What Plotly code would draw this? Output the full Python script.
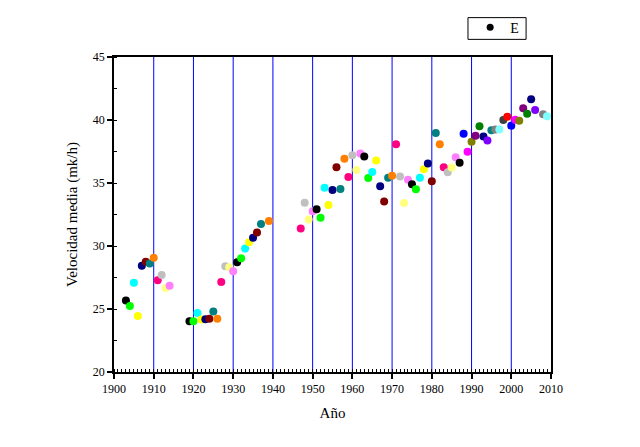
import plotly.graph_objects as go

years = [1903, 1904, 1905, 1906, 1907, 1908, 1909, 1910, 1911, 1912, 1913, 1914,
         1919, 1920, 1921, 1922, 1923, 1924, 1925, 1926, 1927, 1928, 1929, 1930,
         1931, 1932, 1933, 1934, 1935, 1936, 1937, 1939,
         1947, 1948, 1949, 1950, 1951, 1952, 1953, 1954, 1955, 1956, 1957, 1958,
         1959, 1960, 1961, 1962, 1963, 1964, 1965, 1966, 1967, 1968, 1969, 1970,
         1971, 1972, 1973, 1974, 1975, 1976, 1977, 1978, 1979, 1980, 1981, 1982,
         1983, 1984, 1985, 1986, 1987, 1988, 1989, 1990, 1991, 1992, 1993, 1994,
         1995, 1996, 1997, 1998, 1999, 2000, 2001, 2002, 2003, 2004, 2005, 2006,
         2008, 2009]
speeds = [25.68, 25.23, 27.09, 24.45, 28.44, 28.75, 28.62, 29.06, 27.29, 27.70, 26.67, 26.85,
          24.02, 24.02, 24.69, 24.17, 24.19, 24.22, 24.80, 24.22, 27.15, 28.40, 28.32, 27.99,
          28.72, 29.02, 29.80, 30.30, 30.65, 31.08, 31.75, 31.98,
          31.38, 33.44, 32.10, 32.75, 32.92, 32.24, 34.63, 33.26, 34.45, 36.25, 34.53, 36.93,
          35.47, 37.21, 36.04, 37.34, 37.10, 35.39, 35.88, 36.78, 34.74, 33.54, 35.41, 35.57,
          38.07, 35.52, 33.41, 35.26, 34.90, 34.50, 35.41, 36.09, 36.54, 35.13, 38.96, 38.07,
          36.25, 35.86, 36.23, 37.05, 36.60, 38.90, 37.48, 38.28, 38.75, 39.50, 38.70, 38.38,
          39.19, 39.24, 39.24, 40.00, 40.26, 39.55, 40.02, 39.95, 40.94, 40.50, 41.65, 40.80,
          40.45, 40.30]

cycle_a = ["#000000", "#00ff00", "#00ffff", "#ffff00", "#000080", "#800000",
           "#008080", "#ff8000", "#ff0080", "#c0c0c0", "#ffff80", "#ff80ff"]
cycle_b = ["#ff0000", "#0000ff", "#ff00ff", "#808000", "#800080", "#008000",
           "#000080", "#8000ff", "#008080", "#808080", "#80ffff", "#404040"]

colors = []
for i, yr in enumerate(years):
    if yr <= 1987:
        colors.append(cycle_a[i % 12])
    else:
        colors.append(cycle_b[(yr - 1987) % 12])

xticks = list(range(1900, 2011, 10))
yticks = list(range(20, 46, 5))
vlines = list(range(1910, 2001, 10))

fig = go.Figure()
for v in vlines:
    fig.add_vline(x=v, line=dict(color="#0000ff", width=1), layer="below")

# legend frame
fig.add_shape(type="rect", xref="paper", yref="paper",
              x0=0.810, x1=0.943, y0=1.056, y1=1.125,
              line=dict(color="black", width=1), fillcolor="white", layer="below")

fig.add_trace(go.Scatter(x=years, y=speeds, mode="markers", showlegend=False,
                         marker=dict(size=8, color=colors, line=dict(width=0))))
fig.add_trace(go.Scatter(x=[None], y=[None], mode="markers", name="E",
                         marker=dict(size=7, color="#000000")))

font = "Liberation Serif, Times New Roman, serif"
fig.update_layout(
    width=640, height=447,
    margin=dict(l=114, r=89, t=52, b=75),
    paper_bgcolor="white", plot_bgcolor="white",
    font=dict(family=font, size=12, color="black"),
    showlegend=True,
    legend=dict(x=0.815, y=1.144, xanchor="left", yanchor="top",
                borderwidth=0, bgcolor="rgba(0,0,0,0)",
                font=dict(family=font, size=14), itemwidth=30),
)
fig.update_xaxes(range=[1900, 2010], tickvals=xticks, showgrid=False, zeroline=False,
                 showline=True, linecolor="black", linewidth=1.5, mirror=True,
                 ticks="outside", ticklen=5, tickwidth=1.5, tickcolor="black",
                 minor=dict(ticks="inside", dtick=1, ticklen=3, tickcolor="black", tickwidth=1),
                 tickfont=dict(size=12, family=font),
                 title=dict(text="Año", font=dict(size=15, family=font), standoff=12))
fig.update_yaxes(range=[20, 45], tickvals=yticks, showgrid=False, zeroline=False,
                 showline=True, linecolor="black", linewidth=1.5, mirror=True,
                 ticks="outside", ticklen=5, tickwidth=1.5, tickcolor="black",
                 minor=dict(ticks="inside", dtick=2.5, ticklen=3, tickcolor="black", tickwidth=1),
                 tickfont=dict(size=12, family=font),
                 title=dict(text="Velocidad media (mk/h)", font=dict(size=15, family=font), standoff=12))

fig.write_html("out.html")
